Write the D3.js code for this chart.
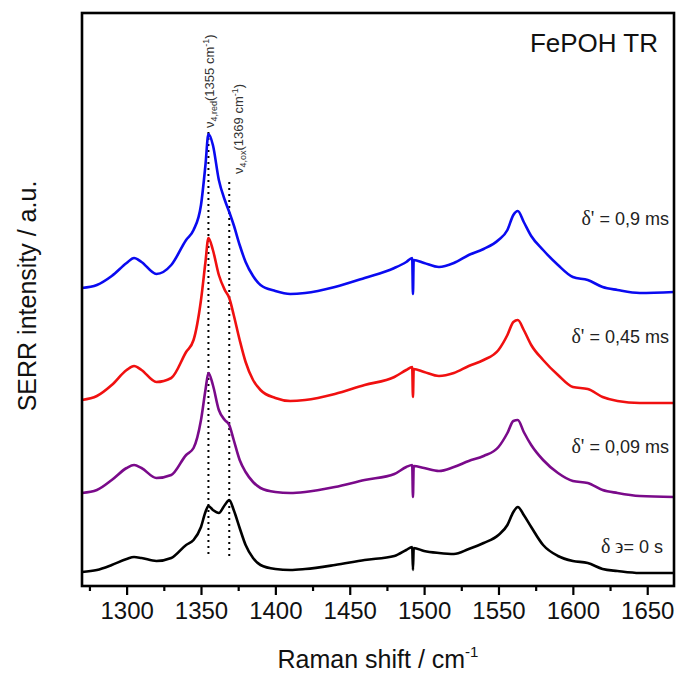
<!DOCTYPE html>
<html>
<head>
<meta charset="utf-8">
<script src="https://cdn.jsdelivr.net/npm/d3@7"></script>
<style>
  body { margin: 0; background: #fff; }
  svg { display: block; font-family: "Liberation Sans", Arial, sans-serif; }
</style>
</head>
<body>
<svg id="chart" width="678" height="675"></svg>
<script>
// wavenumbers (cm-1), shared by every spectrum
const wavenumbers = [1270, 1280, 1290, 1300, 1305, 1310, 1320, 1330, 1340, 1345, 1350, 1353, 1355, 1358,
  1362, 1366, 1369, 1372, 1376, 1380, 1385, 1390, 1400, 1410, 1420, 1440, 1460, 1480, 1488, 1492, 1492.5,
  1493, 1500, 1510, 1520, 1530, 1540, 1550, 1556, 1560, 1563, 1567, 1572, 1580, 1590, 1600, 1610, 1620,
  1630, 1645, 1668];

// intensities (a.u., already stacked with their offsets)
const blue09 = [298, 301, 310, 323, 328, 324, 312, 321, 346, 356, 381, 421, 452, 441,
  406, 386, 374, 361, 341, 324, 310, 301, 295, 292, 293, 299, 308, 318, 324, 328, 292,
  326, 323, 319, 323, 331, 337, 346, 356, 371, 375, 364, 350, 336, 321, 309, 306, 299,
  296, 293, 294];
const red045 = [186, 190, 201, 216, 220, 216, 204, 208, 234, 246, 286, 324, 348, 336,
  311, 296, 288, 271, 246, 224, 206, 196, 188, 185, 186, 192, 201, 209, 216, 219, 189,
  217, 214, 210, 213, 220, 226, 236, 251, 264, 266, 256, 241, 226, 211, 199, 197, 189,
  185, 183, 183];
const purple009 = [93, 96, 106, 118, 121, 118, 108, 111, 131, 138, 166, 196, 213, 201,
  176, 166, 161, 146, 126, 114, 104, 98, 94, 93, 94, 99, 106, 112, 119, 121, 89,
  120, 118, 115, 119, 125, 130, 139, 153, 165, 166, 154, 141, 126, 113, 105, 103, 96,
  93, 90, 89];
const black0 = [14, 16, 21, 27, 29, 28, 25, 28, 41, 46, 59, 74, 80, 76,
  73, 81, 86, 76, 58, 41, 28, 21, 17, 16, 17, 21, 26, 30, 36, 39, 16,
  38, 35, 33, 32, 37, 43, 51, 61, 74, 79, 71, 59, 41, 30, 25, 23, 17,
  15, 13, 13];

const seriesNames = ["δ' = 0,9 ms", "δ' = 0,45 ms", "δ' = 0,09 ms", "δ ϶= 0 s"];
const seriesColors = ["#0a0af0", "#f01010", "#7a0a8a", "#000000"];
const seriesValues = [blue09, red045, purple009, black0];

// dotted marker lines: [wavenumber, top, bottom] in a.u.
const markerLines = [[1355, 454, 28], [1369, 404, 28]];
const xTicks = [1300, 1350, 1400, 1450, 1500, 1550, 1600, 1650];
const xMinorTicks = [1275, 1325, 1375, 1425, 1475, 1525, 1575, 1625];

const svg = d3.select("#chart");
const margin = {top: 13, right: 4, bottom: 89, left: 82};
const width = 678 - margin.left - margin.right,
  height = 675 - margin.top - margin.bottom;

const x = d3.scaleLinear().domain([1270, 1668]).range([margin.left, margin.left + width]);
const y = d3.scaleLinear().domain([0, 573]).range([margin.top + height, margin.top]);

const g = svg.append("g");

// dotted lines
markerLines.forEach(function(m) {
  g.append("line")
    .attr("x1", x(m[0])).attr("x2", x(m[0]))
    .attr("y1", y(m[1])).attr("y2", y(m[2]))
    .attr("stroke", "#000")
    .attr("stroke-width", 2)
    .attr("stroke-dasharray", "2,4");
});

// spectra
seriesValues.forEach(function(vals, i) {
  let data = wavenumbers.map((w, k) => [w, vals[k]]);
  let line = d3.line()
    .curve(d3.curveMonotoneX)
    .x(d => x(d[0]))
    .y(d => y(d[1]));
  g.append("path")
    .datum(data)
    .attr("fill", "none")
    .attr("stroke", seriesColors[i])
    .attr("stroke-width", 2.6)
    .attr("stroke-linejoin", "round")
    .attr("d", line);
});

// frame
svg.append("rect")
  .attr("x", margin.left).attr("y", margin.top)
  .attr("width", width).attr("height", height)
  .attr("fill", "none")
  .attr("stroke", "#000")
  .attr("stroke-width", 2.6);

// bottom axis
const xAxis = d3.axisBottom(x).tickValues(xTicks).tickFormat(d3.format("d"))
  .tickSize(9).tickSizeOuter(0).tickPadding(7);
const axG = svg.append("g")
  .attr("transform", "translate(0," + (margin.top + height) + ")")
  .call(xAxis);
axG.select(".domain").remove();
axG.selectAll("line").attr("stroke-width", 2.2);
axG.selectAll("text")
  .attr("font-size", 24)
  .attr("font-family", "Liberation Sans, Arial, sans-serif")
  .attr("fill", "#111");

const minorG = svg.append("g")
  .attr("transform", "translate(0," + (margin.top + height) + ")")
  .call(d3.axisBottom(x).tickValues(xMinorTicks).tickSize(5).tickSizeOuter(0).tickFormat(""));
minorG.select(".domain").remove();
minorG.selectAll("line").attr("stroke-width", 2.2);

// axis titles
const xt = svg.append("text")
  .attr("x", margin.left + width / 2)
  .attr("y", 668)
  .attr("text-anchor", "middle")
  .attr("font-size", 25)
  .attr("fill", "#111");
xt.append("tspan").text("Raman shift / cm");
xt.append("tspan").attr("font-size", 15).attr("dy", -11).text("-1");

svg.append("text")
  .attr("transform", "translate(36,296) rotate(-90)")
  .attr("text-anchor", "middle")
  .attr("font-size", 25)
  .attr("fill", "#111")
  .text("SERR intensity / a.u.");

// title in the corner
svg.append("text")
  .attr("x", 658).attr("y", 52)
  .attr("text-anchor", "end")
  .attr("font-size", 26)
  .attr("fill", "#111")
  .text("FePOH TR");

// series labels
const labelY = [225, 343, 453, 553];
const labelX = [669, 669, 669, 663];
seriesNames.forEach(function(name, i) {
  let t = svg.append("text")
    .attr("x", labelX[i]).attr("y", labelY[i])
    .attr("text-anchor", "end")
    .attr("font-size", 18)
    .attr("fill", "#222");
  let greek = name.split("=")[0];
  t.append("tspan").attr("font-family", "Liberation Serif, Times New Roman, serif").attr("font-size", 20).text(greek);
  t.append("tspan").text("=" + name.split("=")[1]);
});

// rotated band labels
function bandLabel(xb, yb, sub, wn) {
  let t = svg.append("text")
    .attr("transform", "translate(" + xb + "," + yb + ") rotate(-90)")
    .attr("font-size", 13)
    .attr("fill", "#333");
  t.append("tspan").text("ν");
  t.append("tspan").attr("font-size", 9).attr("dy", 3).text(sub);
  t.append("tspan").attr("dy", -3).text("(" + wn + " cm");
  t.append("tspan").attr("font-size", 9).attr("dy", -5).text("-1");
  t.append("tspan").attr("dy", 5).text(")");
}
bandLabel(214, 128, "4,red", 1355);
bandLabel(243, 174, "4,ox", 1369);
</script>
</body>
</html>
